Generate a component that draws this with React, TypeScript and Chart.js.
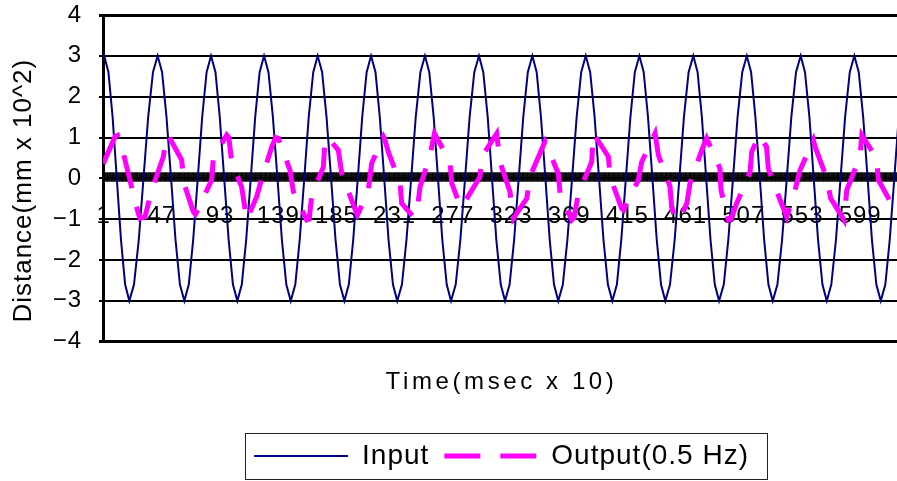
import { useEffect, useRef } from 'react';
import { Chart, registerables } from 'chart.js';

Chart.register(...registerables);

const FONT = "'Liberation Sans', Arial, sans-serif";

// Category axis: one tick per sample (1..630), labels every 46 samples
const categoryCount = 630;
const xTickLabels = [1, 47, 93, 139, 185, 231, 277, 323, 369, 415, 461, 507, 553, 599];

const inputLabel = 'Input';
const outputLabel = 'Output(0.5 Hz)';

// Input (navy) – sample position / value
const inputX = [
  0.5, 1.5, 4.8, 8.1, 11.4, 14.7, 18.0, 21.3,
  25.0, 28.8, 32.5, 36.2, 40.0, 43.7,
  47.2, 50.7, 54.3, 57.8, 61.3, 64.8,
  68.3, 71.8, 75.4, 78.9, 82.4, 85.9,
  89.4, 92.8, 96.3, 99.8, 103.2, 106.7,
  110.2, 113.7, 117.3, 120.8, 124.3, 127.8,
  131.3, 134.8, 138.4, 141.9, 145.4, 148.9,
  152.5, 156.0, 159.6, 163.1, 166.7, 170.2,
  173.7, 177.2, 180.8, 184.3, 187.8, 191.3,
  194.8, 198.3, 201.9, 205.4, 208.9, 212.4,
  215.9, 219.3, 222.8, 226.2, 229.7, 233.1,
  236.8, 240.4, 244.1, 247.7, 251.4, 255.0,
  258.4, 261.9, 265.3, 268.7, 272.2, 275.6,
  279.3, 283.0, 286.7, 290.3, 294.0, 297.7,
  301.1, 304.6, 308.0, 311.4, 314.9, 318.3,
  321.9, 325.5, 329.1, 332.7, 336.3, 339.9,
  343.3, 346.7, 350.2, 353.6, 357.0, 360.4,
  364.0, 367.6, 371.3, 374.9, 378.5, 382.1,
  385.6, 389.1, 392.6, 396.1, 399.6, 403.1,
  406.7, 410.2, 413.8, 417.4, 420.9, 424.5,
  427.9, 431.3, 434.8, 438.2, 441.6, 445.0,
  448.7, 452.4, 456.1, 459.7, 463.4, 467.1,
  470.5, 473.9, 477.3, 480.7, 484.1, 487.5,
  491.2, 494.8, 498.5, 502.1, 505.8, 509.4,
  512.8, 516.2, 519.7, 523.1, 526.5, 529.9,
  533.6, 537.3, 541.0, 544.6, 548.3, 552.0,
  555.4, 558.9, 562.3, 565.7, 569.2, 572.6,
  576.2, 579.9, 583.5, 587.1, 590.8, 594.4,
  597.9, 601.4, 604.9, 608.3, 611.8, 615.3,
  618.9, 622.4, 626.0, 629.5, 633.1, 636.6,
];
const inputY = [
  2.9, 3, 2.6, 1.5, 0, -1.5, -2.6, -3,
  -2.6, -1.5, 0, 1.5, 2.6, 3,
  2.6, 1.5, 0, -1.5, -2.6, -3,
  -2.6, -1.5, 0, 1.5, 2.6, 3,
  2.6, 1.5, 0, -1.5, -2.6, -3,
  -2.6, -1.5, 0, 1.5, 2.6, 3,
  2.6, 1.5, 0, -1.5, -2.6, -3,
  -2.6, -1.5, 0, 1.5, 2.6, 3,
  2.6, 1.5, 0, -1.5, -2.6, -3,
  -2.6, -1.5, 0, 1.5, 2.6, 3,
  2.6, 1.5, 0, -1.5, -2.6, -3,
  -2.6, -1.5, 0, 1.5, 2.6, 3,
  2.6, 1.5, 0, -1.5, -2.6, -3,
  -2.6, -1.5, 0, 1.5, 2.6, 3,
  2.6, 1.5, 0, -1.5, -2.6, -3,
  -2.6, -1.5, 0, 1.5, 2.6, 3,
  2.6, 1.5, 0, -1.5, -2.6, -3,
  -2.6, -1.5, 0, 1.5, 2.6, 3,
  2.6, 1.5, 0, -1.5, -2.6, -3,
  -2.6, -1.5, 0, 1.5, 2.6, 3,
  2.6, 1.5, 0, -1.5, -2.6, -3,
  -2.6, -1.5, 0, 1.5, 2.6, 3,
  2.6, 1.5, 0, -1.5, -2.6, -3,
  -2.6, -1.5, 0, 1.5, 2.6, 3,
  2.6, 1.5, 0, -1.5, -2.6, -3,
  -2.6, -1.5, 0, 1.5, 2.6, 3,
  2.6, 1.5, 0, -1.5, -2.6, -3,
  -2.6, -1.5, 0, 1.5, 2.6, 3,
  2.6, 1.5, 0, -1.5, -2.6, -3,
  -2.6, -1.5, 0, 1.5, 2.6, 3,
];

// Output (magenta dashed) – sample position / value
const outputX = [
  0.7, 10, 12, 15.3, 21.8, 25.8, 29.7, 33.7, 39, 48.2, 50.8, 53, 62.7, 64.5, 71.9, 73.5,
  74.6, 86.4, 87.7, 98.3, 100, 102.2, 110.1, 114.1, 122, 126, 133.9, 137, 139.1, 148.3,
  151, 161.5, 163.5, 165.5, 174.7, 176, 178, 186.5, 189.2, 201, 201.6, 202.3, 210.2,
  212.9, 222.1, 223.4, 226, 235.3, 236.6, 246, 248.5, 251.1, 259, 262.5, 274.8, 276.2,
  282.7, 284, 298.5, 299.9, 311.7, 314.3, 322.2, 324.9, 335.5, 338, 348.6, 349.9, 360.4,
  361.8, 371, 373, 376.2, 386.8, 388.1, 400, 401.3, 410.5, 412, 413.1, 423.7, 426.3,
  436.9, 439.5, 448.7, 450, 453, 456.6, 462, 464.5, 473.8, 477.7, 488.2, 489, 494.8, 497,
  501.4, 512, 513.3, 519, 525, 526.4, 535.7, 541, 547.5, 551.5, 562, 563.4, 572.6, 575.7,
  586.3, 588.4, 598.9, 600.3, 612, 613.4, 628, 631,
];
const outputY = [
  0.36, 1.02, 1.05, 0.77, -0.04, -0.58, -0.98, -0.94, -0.29, 0.53, 1.06, 1.0, 0.45, -0.12, -0.82, -0.88,
  -0.82, -0.04, 0.49, 1.06, 1.0, 0.4, -0.21, -1.02, -0.45, 0, 0.77, 1.0, 0.98, 0.2,
  -0.33, -1.02, -1.0, -0.41, 0.28, 0.94, 1.0, 0.69, 0.12, -0.86, -0.9, -0.86, -0.29,
  0.37, 1.02, 0.94, 0.65, -0.12, -0.61, -0.95, -0.86, -0.21, 0.57, 1.1, 0.4, -0.12,
  -0.66, -0.7, 0.04, 0.53, 1.1, 0.4, -0.33, -0.98, -0.49, 0.04, 0.81, 0.9, 0.12,
  -0.37, -1.02, -0.95, -0.37, 0.4, 1.1, 0.53, 0.04, -0.74, -0.78, -0.7, -0.04, 0.4,
  1.1, 0.57, -0.2, -0.7, -1.02, -1.0, -0.61, -0.12, 0.69, 0.98, 0.24, -0.29, -1.02, -1.0,
  -0.61, 0.16, 0.65, 1.06, 0.77, 0.24, -0.53, -0.94, -0.29, 0.2, 0.94, 0.77, 0, -0.49,
  -1.02, -0.29, 0.53, 1.06, 0.49, -0.04, -0.86, -0.95,
];

const categories = Array.from({ length: categoryCount }, (_, i) => i + 1);

const LEGEND_FONT = 28;
const LEGEND_SAMPLE = 94;

const spacingPlugin = {
  id: 'letterSpacing',
  beforeLayout(chart: any) {
    chart.ctx.letterSpacing = '1px';
  },
  beforeDraw(chart: any) {
    const ctx = chart.ctx;
    ctx.letterSpacing = '1px';
    const tb = chart.titleBlock;
    if (tb && !tb.__spaced) {
      const orig = tb.draw.bind(tb);
      tb.draw = (...args: any[]) => {
        ctx.save();
        ctx.letterSpacing = '3.6px';
        orig(...args);
        ctx.restore();
      };
      tb.__spaced = true;
    }
  },
};

const tickBandPlugin = {
  id: 'tickBand',
  beforeDatasetsDraw(chart: any) {
    const xs = chart.scales.x;
    const ys = chart.scales.y;
    const y0 = ys.getPixelForValue(0);
    const ctx = chart.ctx;
    ctx.save();
    ctx.strokeStyle = '#000';
    ctx.lineWidth = 1.2;
    ctx.beginPath();
    xs.ticks.forEach((t: any) => {
      const px = xs.getPixelForValue(t.value);
      ctx.moveTo(px, y0 - 6);
      ctx.lineTo(px, y0 + 3.5);
    });
    ctx.stroke();
    ctx.restore();
  },
};

const legendFramePlugin = {
  id: 'legendFrame',
  afterDraw(chart: any) {
    const lg = chart.legend;
    if (!lg || !lg.legendHitBoxes || !lg.legendHitBoxes.length) return;
    const hb = lg.legendHitBoxes;
    const ctx = chart.ctx;
    ctx.save();
    const last = hb.length - 1;
    const left = hb[0].left - 9;
    const right = hb[last].left + hb[last].width + 18;
    const top = hb[0].top - 9;
    const bottom = hb[0].top + hb[0].height + 9;
    ctx.strokeStyle = '#222';
    ctx.lineWidth = 1;
    ctx.strokeRect(Math.round(left) + 0.5, Math.round(top) + 0.5, Math.round(right - left), Math.round(bottom - top));
    ctx.restore();
  },
};

export default function App() {
  const ref = useRef<HTMLCanvasElement>(null);

  useEffect(() => {
    const canvas = ref.current;
    if (!canvas) return;
    const chart = new Chart(canvas, {
      type: 'line',
      data: {
        datasets: [
          {
            label: inputLabel,
            data: inputX.map((x, i) => ({ x, y: inputY[i] })),
            borderColor: '#000080',
            backgroundColor: '#000080',
            borderWidth: 2,
            pointRadius: 0,
            tension: 0,
            order: 1,
          },
          {
            label: outputLabel,
            data: outputX.map((x, i) => ({ x, y: outputY[i] })),
            borderColor: '#ff00ff',
            backgroundColor: '#ff00ff',
            borderWidth: 5,
            borderDash: [34, 19],
            borderCapStyle: 'butt',
            pointRadius: 0,
            tension: 0,
            order: 0,
          },
        ],
      },
      options: {
        responsive: false,
        animation: false,
        events: [],
        layout: { padding: { top: 15, right: 71, bottom: 1, left: 0 } },
        scales: {
          x: {
            type: 'linear',
            position: { y: 0 } as any,
            min: 0.5,
            max: categoryCount + 0.5,
            afterFit: (s: any) => {
              s.height = 0;
            },
            afterBuildTicks: (s: any) => {
              s.ticks = categories.map((v) => ({ value: v }));
            },
            ticks: {
              autoSkip: false,
              maxRotation: 0,
              minRotation: 0,
              padding: 24,
              color: '#000',
              font: { family: FONT, size: 24 },
              callback: (v: any) => (xTickLabels.includes(Number(v)) ? String(v) : ''),
            },
            grid: { display: false, drawTicks: false },
            border: { display: true, color: '#000', width: 2 },
          },
          y: {
            type: 'linear',
            min: -4,
            max: 4,
            afterFit: (s: any) => {
              s.width = 103;
              s.paddingTop = 15;
              s.paddingBottom = 15;
            },
            ticks: {
              stepSize: 1,
              padding: 17,
              color: '#000',
              font: { family: FONT, size: 24 },
              callback: (v: any) => (Number(v) < 0 ? '\u2212' + Math.abs(Number(v)) : String(v)),
            },
            grid: {
              color: '#000',
              lineWidth: (c: any) => (c.tick && Math.abs(c.tick.value) === 4 ? 3 : 2),
              drawTicks: true,
              tickLength: 4,
            },
            border: { display: true, color: '#000', width: 3 },
            title: {
              display: true,
              text: 'Distance(mm x 10^2)   ',
              color: '#000',
              font: { family: FONT, size: 26 },
              padding: { top: 8, bottom: 0 },
            },
          },
        },
        plugins: {
          tooltip: { enabled: false },
          title: {
            display: true,
            text: 'Time(msec x 10)',
            position: 'bottom',
            fullSize: false,
            weight: 500,
            color: '#000',
            font: { family: FONT, size: 24, weight: 'normal' },
            padding: { top: 26, bottom: 31.5 },
          } as any,
          legend: {
            display: true,
            position: 'bottom',
            fullSize: false,
            align: 'center',
            labels: {
              usePointStyle: true,
              pointStyle: 'line',
              pointStyleWidth: LEGEND_SAMPLE,
              padding: 14,
              color: '#000',
              font: { family: FONT, size: LEGEND_FONT },
              generateLabels: (c: any) => {
                const items = (Chart.defaults.plugins.legend.labels as any).generateLabels(c);
                return items.map((it: any) =>
                  it.datasetIndex === 1 ? { ...it, lineDash: [36, 20], lineDashOffset: 55 } : it
                );
              },
              sort: (a: any, b: any) => a.datasetIndex - b.datasetIndex,
            },
          } as any,
        },
      },
      plugins: [spacingPlugin, tickBandPlugin, legendFramePlugin],
    });
    return () => chart.destroy();
  }, []);

  return (
    <div
      style={{
        position: 'fixed',
        left: 0,
        top: 0,
        width: 897,
        height: 481,
        overflow: 'hidden',
        background: '#fff',
      }}
    >
      <canvas ref={ref} width={971} height={481} style={{ display: 'block' }} />
    </div>
  );
}
